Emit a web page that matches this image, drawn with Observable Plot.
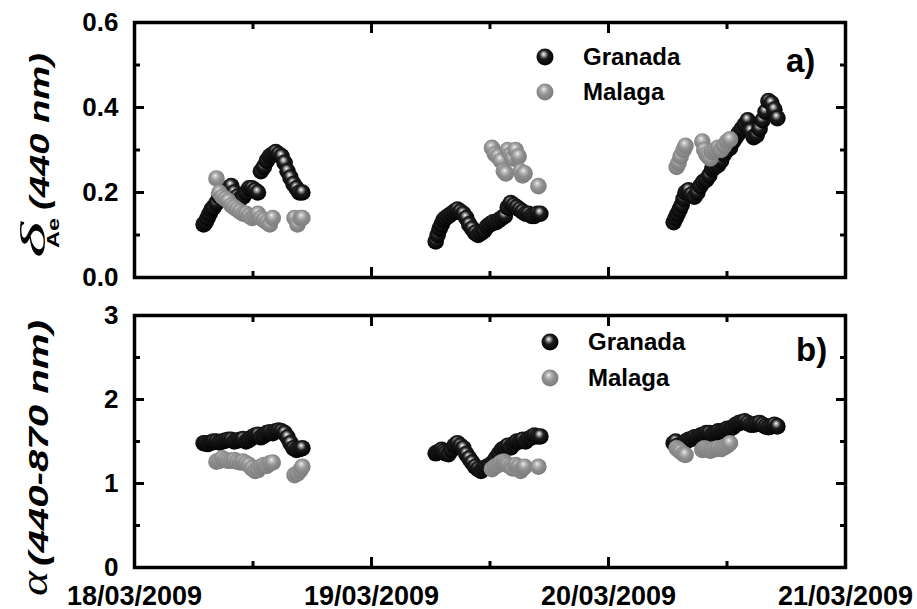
<!DOCTYPE html>
<html>
<head>
<meta charset="utf-8">
<script src="https://cdn.jsdelivr.net/npm/d3@7"></script>
<script src="https://cdn.jsdelivr.net/npm/@observablehq/plot@0.6"></script>
<style>
  body { margin: 0; background: #fff; }
  #wrap { position: relative; width: 917px; height: 609px; background: #fff; }
  #wrap > svg { position: absolute; left: 0; }
</style>
</head>
<body>
<svg width="0" height="0" style="position:absolute">
  <defs>
    <radialGradient id="gBlack" cx="0.45" cy="0.42" r="0.6" fx="0.42" fy="0.32">
      <stop offset="0" stop-color="#ffffff"/>
      <stop offset="0.18" stop-color="#a0a0a0"/>
      <stop offset="0.45" stop-color="#1c1c1c"/>
      <stop offset="1" stop-color="#000000"/>
    </radialGradient>
    <radialGradient id="gGray" cx="0.45" cy="0.42" r="0.6" fx="0.42" fy="0.32">
      <stop offset="0" stop-color="#f2f2f2"/>
      <stop offset="0.22" stop-color="#bcbcbc"/>
      <stop offset="0.55" stop-color="#8e8e8e"/>
      <stop offset="1" stop-color="#7c7c7c"/>
    </radialGradient>
  </defs>
</svg>
<div id="wrap"></div>
<script>
// Time of each measurement: hours since 18/03/2009 00:00 (UTC)
const granadaHours = [
  7.0,7.2,7.4,7.6,7.8,8.0,8.3,8.6,8.9,9.2,9.5,9.8,10.1,10.4,10.7,11.0,11.3,11.6,11.9,12.2,12.5,12.8,13.1,13.4,13.7,14.0,14.3,14.6,14.9,15.2,15.5,15.8,16.1,16.4,16.7,17.0,
  30.5,30.7,30.9,31.1,31.3,31.5,31.8,32.1,32.4,32.7,33.0,33.3,33.6,33.9,34.2,34.5,34.8,35.1,35.4,35.7,36.0,36.3,36.6,36.9,37.2,37.5,37.8,38.1,38.4,38.7,39.0,39.3,39.6,39.9,40.2,40.5,40.8,41.1,
  54.6,54.8,55.0,55.2,55.4,55.6,55.8,56.1,56.4,56.7,57.0,57.3,57.6,57.9,58.2,58.5,58.8,59.1,59.4,59.7,60.0,60.3,60.6,60.9,61.2,61.5,61.8,62.1,62.4,62.7,63.0,63.3,63.6,63.9,64.2,64.5,64.8,65.1
];
const granadaAOD = [
  0.125,0.13,0.14,0.15,0.16,0.165,0.175,0.19,0.195,0.2,0.21,0.215,0.2,0.19,0.185,0.19,0.2,0.21,0.21,0.205,0.2,0.25,0.26,0.275,0.285,0.29,0.295,0.29,0.285,0.27,0.25,0.235,0.22,0.21,0.2,0.2,
  0.085,0.1,0.115,0.125,0.135,0.14,0.145,0.15,0.155,0.16,0.155,0.15,0.14,0.125,0.115,0.105,0.1,0.105,0.11,0.12,0.125,0.13,0.13,0.135,0.14,0.145,0.165,0.175,0.17,0.165,0.16,0.155,0.15,0.15,0.145,0.145,0.15,0.15,
  0.13,0.14,0.15,0.16,0.17,0.185,0.2,0.205,0.195,0.19,0.2,0.215,0.225,0.23,0.24,0.255,0.26,0.265,0.275,0.29,0.3,0.305,0.32,0.33,0.34,0.35,0.36,0.37,0.345,0.33,0.335,0.35,0.37,0.39,0.415,0.41,0.395,0.375
];
const granadaAlpha = [
  1.48,1.48,1.47,1.48,1.49,1.5,1.5,1.49,1.5,1.51,1.52,1.52,1.5,1.51,1.52,1.53,1.5,1.52,1.55,1.57,1.58,1.55,1.57,1.6,1.61,1.6,1.62,1.63,1.62,1.6,1.55,1.48,1.42,1.4,1.41,1.42,
  1.36,1.37,1.38,1.4,1.38,1.36,1.35,1.4,1.45,1.48,1.45,1.42,1.35,1.3,1.25,1.2,1.17,1.15,1.18,1.2,1.22,1.25,1.3,1.35,1.4,1.42,1.45,1.43,1.47,1.5,1.5,1.52,1.5,1.53,1.55,1.57,1.56,1.56,
  1.48,1.5,1.45,1.42,1.44,1.47,1.5,1.52,1.53,1.55,1.55,1.57,1.58,1.6,1.6,1.58,1.6,1.62,1.62,1.63,1.65,1.65,1.67,1.7,1.72,1.73,1.74,1.72,1.7,1.7,1.71,1.72,1.7,1.68,1.67,1.68,1.7,1.68
];
const malagaHours = [
  8.3,8.6,8.9,9.2,9.5,9.8,10.1,10.4,10.7,11.0,11.3,11.6,11.9,12.2,12.5,12.8,13.1,13.4,13.7,14.0,16.2,16.5,16.8,17.0,
  36.2,36.5,36.8,37.1,37.4,37.6,37.8,38.1,38.3,38.6,38.9,39.1,39.3,39.5,40.9,
  54.9,55.1,55.3,55.6,55.8,57.5,57.7,57.9,58.1,58.3,58.5,58.8,59.1,59.4,59.7,60.0,60.3
];
const malagaAOD = [
  0.233,0.2,0.19,0.185,0.18,0.17,0.165,0.16,0.155,0.15,0.15,0.145,0.14,0.145,0.15,0.14,0.135,0.13,0.125,0.14,0.14,0.125,0.14,0.14,
  0.305,0.29,0.285,0.275,0.25,0.245,0.3,0.29,0.28,0.3,0.285,0.25,0.24,0.245,0.215,
  0.26,0.27,0.285,0.3,0.31,0.32,0.3,0.29,0.285,0.28,0.295,0.3,0.305,0.3,0.31,0.32,0.325
];
const malagaAlpha = [
  1.26,1.27,1.3,1.28,1.27,1.27,1.28,1.26,1.25,1.26,1.24,1.22,1.18,1.15,1.16,1.2,1.22,1.21,1.24,1.25,1.1,1.12,1.16,1.2,
  1.17,1.2,1.22,1.25,1.26,1.24,1.22,1.2,1.18,1.22,1.2,1.15,1.18,1.2,1.2,
  1.42,1.4,1.38,1.35,1.34,1.4,1.42,1.41,1.4,1.39,1.4,1.41,1.42,1.41,1.43,1.45,1.48
];
const seriesNames = ["Granada", "Malaga"];
const xTickLabels = ["18/03/2009", "19/03/2009", "20/03/2009", "21/03/2009"];
const aodTicks = [0, 0.2, 0.4, 0.6];
const aodTickLabels = ["0.0", "0.2", "0.4", "0.6"];
const aodMinor = [0.1, 0.3, 0.5];
const alphaTicks = [0, 1, 2, 3];
const alphaTickLabels = ["0", "1", "2", "3"];
const alphaMinor = [0.5, 1.5, 2.5];

const BASE = Date.UTC(2009, 2, 18);
const toDate = h => new Date(BASE + h * 3600e3);
const granada = granadaHours.map((h, i) => ({date: toDate(h), aod: granadaAOD[i], alpha: granadaAlpha[i]}));
const malaga = malagaHours.map((h, i) => ({date: toDate(h), aod: malagaAOD[i], alpha: malagaAlpha[i]}));

const parseDay = d3.utcParse("%d/%m/%Y");
const xMajor = xTickLabels.map(parseDay);
const xMinor = xMajor.slice(0, -1).map(d => d3.utcHour.offset(d, 12));
const xLabelOf = new Map(xMajor.map((d, i) => [+d, xTickLabels[i]]));

const FONT = "'Liberation Sans', Arial, Helvetica, sans-serif";

function panel({key, domain, major, minor, labels, height, marginTop, marginBottom, showX}) {
  const tickOpts = {stroke: "black", strokeWidth: 3, fill: "none", label: null};
  const yLabelOf = new Map(major.map((d, i) => [d, labels[i]]));
  const marks = [
    Plot.dot(granada, {x: "date", y: key, r: 8.3, fill: "url(#gBlack)"}),
    Plot.dot(malaga, {x: "date", y: key, r: 8.3, fill: "url(#gGray)"}),
    Plot.frame({stroke: "black", strokeWidth: 3.5}),
  ];
  for (const a of ["top", "bottom"]) {
    marks.push(Plot.axisX(xMajor, {anchor: a, tickSize: -10, ...tickOpts}));
    marks.push(Plot.axisX(xMinor, {anchor: a, tickSize: -6, ...tickOpts}));
  }
  for (const a of ["left", "right"]) {
    marks.push(Plot.axisY(major, {anchor: a, tickSize: -10, ...tickOpts}));
    marks.push(Plot.axisY(minor, {anchor: a, tickSize: -6, ...tickOpts}));
  }
  marks.push(Plot.axisY(major, {anchor: "left", tickSize: 0, tickPadding: 16, label: null,
    tickFormat: d => yLabelOf.get(d), fontSize: 26, fontWeight: "bold", fill: "black"}));
  if (showX) {
    marks.push(Plot.axisX(xMajor, {anchor: "bottom", tickSize: 0, tickPadding: 18, label: null,
      tickFormat: d => xLabelOf.get(+d), fontSize: 27, fontWeight: "bold", fill: "black"}));
  }
  return Plot.plot({
    width: 917, height, marginLeft: 134, marginRight: 72, marginTop, marginBottom,
    style: {fontFamily: FONT, background: "transparent", overflow: "visible"},
    x: {type: "utc", domain: [xMajor[0], xMajor[xMajor.length - 1]]},
    y: {domain},
    marks
  });
}

const wrap = document.getElementById("wrap");
const topSvg = panel({key: "aod", domain: [0, 0.6], major: aodTicks, minor: aodMinor, labels: aodTickLabels,
  height: 300, marginTop: 22, marginBottom: 23, showX: false});
topSvg.style.top = "0px";
const botSvg = panel({key: "alpha", domain: [0, 3], major: alphaTicks, minor: alphaMinor, labels: alphaTickLabels,
  height: 309, marginTop: 15, marginBottom: 42, showX: true});
botSvg.style.top = "300px";
wrap.appendChild(topSvg);
wrap.appendChild(botSvg);

function vtext(svg, {x, y, text, size, family, weight = "normal", style = "normal", length}) {
  const t = d3.select(svg).append("text")
    .attr("transform", `translate(${x},${y}) rotate(-90)`)
    .attr("text-anchor", "start")
    .attr("font-family", family).attr("font-size", size)
    .attr("font-weight", weight).attr("font-style", style)
    .attr("fill", "black").text(text);
  if (length) t.attr("textLength", length).attr("lengthAdjust", "spacingAndGlyphs");
}
function htext(svg, {x, y, text, size, weight = "bold"}) {
  d3.select(svg).append("text").attr("x", x).attr("y", y)
    .attr("text-anchor", "start")
    .attr("font-family", FONT).attr("font-size", size).attr("font-weight", weight)
    .attr("fill", "black").text(text);
}
function legend(svg, {x, y0, gap}) {
  const g = d3.select(svg);
  seriesNames.forEach((name, i) => {
    const cy = y0 + i * gap;
    g.append("circle").attr("cx", x).attr("cy", cy).attr("r", 8.5)
      .attr("fill", i === 0 ? "url(#gBlack)" : "url(#gGray)");
    htext(svg, {x: x + 38, y: cy + 8, text: name, size: 24});
  });
}

// Top panel titles, legend, label
vtext(topSvg, {x: 45, y: 258, text: "δ", size: 36, family: "'Liberation Serif', 'DejaVu Serif', serif", style: "italic", length: 36});
vtext(topSvg, {x: 59, y: 248, text: "Ae", size: 16, family: FONT, weight: "bold", length: 30});
vtext(topSvg, {x: 49, y: 210, text: "(440 nm)", size: 28, family: FONT, weight: "bold", style: "italic", length: 157});
legend(topSvg, {x: 545, y0: 57, gap: 35});
htext(topSvg, {x: 786, y: 72, text: "a)", size: 33});

// Bottom panel titles, legend, label (coordinates relative to the bottom svg)
vtext(botSvg, {x: 47, y: 296, text: "α", size: 38, family: "'Liberation Serif', 'DejaVu Serif', serif", style: "italic", length: 25});
vtext(botSvg, {x: 48, y: 266, text: "(440-870 nm)", size: 28, family: FONT, weight: "bold", style: "italic", length: 246});
legend(botSvg, {x: 550, y0: 42, gap: 36});
htext(botSvg, {x: 796, y: 61, text: "b)", size: 33});
</script>
</body>
</html>
